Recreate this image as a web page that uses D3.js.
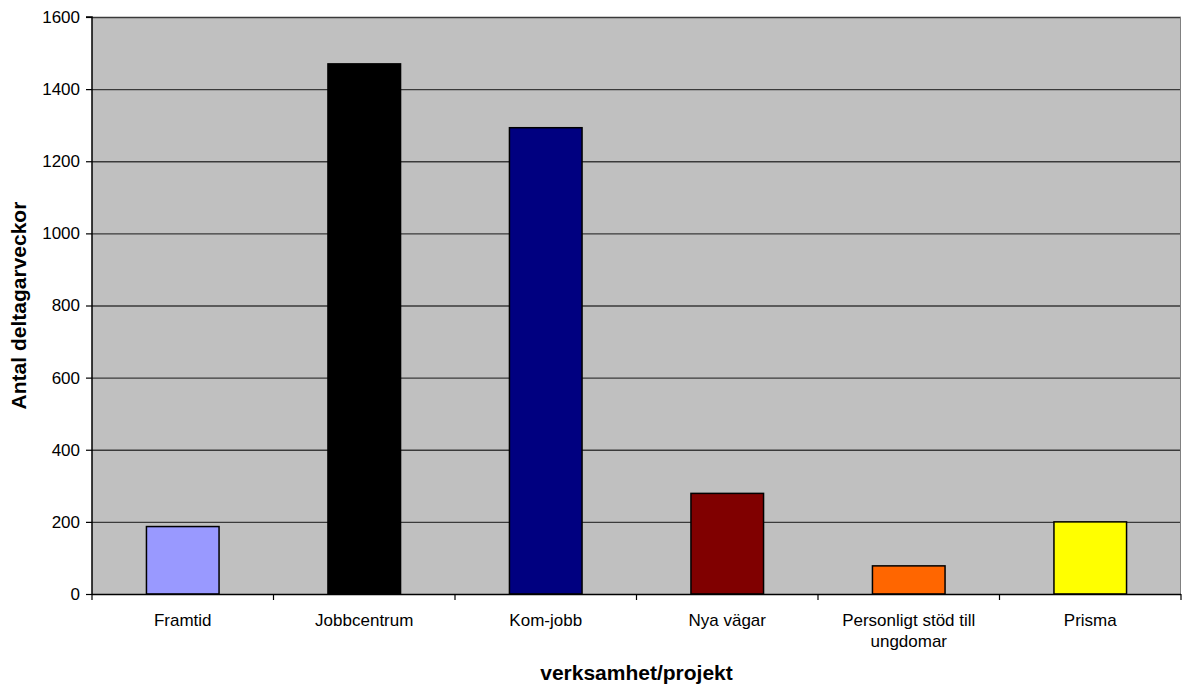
<!DOCTYPE html>
<html><head><meta charset="utf-8">
<script src="https://cdn.jsdelivr.net/npm/d3@7"></script>
<style>body{margin:0;background:#fff}svg{display:block}text{font-family:"Liberation Sans",Arial,sans-serif}</style>
</head><body>
<svg id="c" width="1186" height="689"></svg>
<script>
const categories = ["Framtid","Jobbcentrum","Kom-jobb","Nya vägar","Personligt stöd till ungdomar","Prisma"];
const values = [187,1470,1293,279,78,200];
const colors = ["#9999FF","#000000","#000080","#800000","#FF6600","#FFFF00"];
const yTicks = [0,200,400,600,800,1000,1200,1400,1600];

const svg = d3.select("#c");
const L=92, R=1181, T=17, B=594;
const x = d3.scaleBand().domain(categories).range([L,R]).paddingInner(0.6).paddingOuter(0.3);
const xb = d3.scaleBand().domain(categories).range([L,R]).padding(0);
const y = d3.scaleLinear().domain([0,1600]).range([B,T]);

svg.append("rect").attr("x",L).attr("y",T).attr("width",R-L).attr("height",B-T).attr("fill","#C0C0C0");
// gridlines
svg.append("g").selectAll("line").data(yTicks.filter(d=>d>0)).join("line")
  .attr("x1",L).attr("x2",R).attr("y1",d=>y(d)+0.5).attr("y2",d=>y(d)+0.5)
  .attr("stroke","#3a3a3a").attr("stroke-width",1.3);
// right border
svg.append("line").attr("x1",R-0.5).attr("x2",R-0.5).attr("y1",T).attr("y2",B).attr("stroke","#808080").attr("stroke-width",1);

// bars
svg.append("g").selectAll("rect").data(categories).join("rect")
  .attr("x",d=>x(d)).attr("width",x.bandwidth())
  .attr("y",(d,i)=>y(values[i])).attr("height",(d,i)=>B-y(values[i]))
  .attr("fill",(d,i)=>colors[i]).attr("stroke","#000").attr("stroke-width",1.5);

// y axis
const ya = d3.axisLeft(y).tickValues(yTicks).tickFormat(d3.format("d")).tickSize(6).tickPadding(6);
const gy = svg.append("g").attr("transform",`translate(${L},0)`).call(ya);
gy.attr("font-size",null).attr("font-family",null);
gy.select(".domain").attr("stroke","#000").attr("stroke-width",1.5).attr("d",`M-6,${T}H0V${B}`);
gy.selectAll(".tick line").attr("stroke","#000").attr("stroke-width",1.2);
gy.selectAll(".tick text").style("font-size","17px").attr("fill","#000");

// x axis line & boundary ticks
svg.append("line").attr("x1",L).attr("x2",R).attr("y1",B+0.5).attr("y2",B+0.5).attr("stroke","#000").attr("stroke-width",1.3);
const bounds = categories.map(c=>xb(c)).concat([R]);
svg.append("g").selectAll("line").data(bounds).join("line")
  .attr("x1",d=>d).attr("x2",d=>d).attr("y1",B).attr("y2",B+6).attr("stroke","#000").attr("stroke-width",1.2);

// category labels (wrapped)
const wrap = {"Personligt stöd till ungdomar":["Personligt stöd till","ungdomar"]};
const lab = svg.append("g").selectAll("text").data(categories).join("text")
  .attr("x",d=>xb(d)+xb.bandwidth()/2).attr("y",626)
  .attr("text-anchor","middle").style("font-size","17px").attr("fill","#000");
lab.each(function(d){
  const lines = wrap[d]||[d];
  const t=d3.select(this);
  lines.forEach((s,i)=>t.append("tspan").attr("x",xb(d)+xb.bandwidth()/2).attr("dy",i?21:0).text(s));
});

// axis titles
svg.append("text").attr("x",(L+R)/2).attr("y",680).attr("text-anchor","middle")
  .style("font-size","21px").attr("font-weight","bold").text("verksamhet/projekt");
svg.append("text").attr("transform",`translate(26,${(T+B)/2}) rotate(-90)`).attr("text-anchor","middle")
  .style("font-size","21px").attr("font-weight","bold").text("Antal deltagarveckor");
</script>
</body></html>
